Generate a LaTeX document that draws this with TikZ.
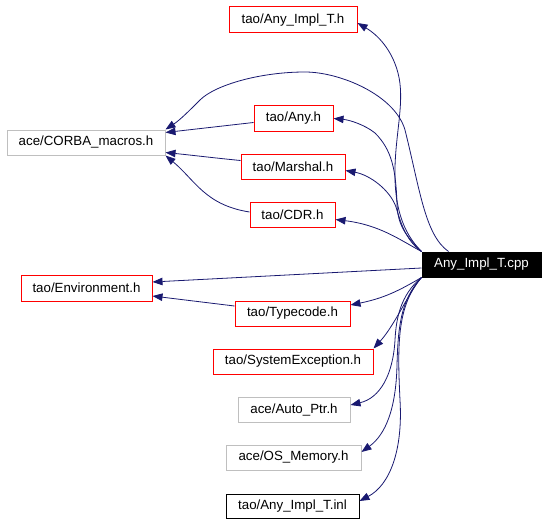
\documentclass[tikz,border=0pt]{standalone}
\usepackage{fontspec}
\setmainfont{Liberation Sans}
\usetikzlibrary{arrows.meta}
\definecolor{edgeblue}{HTML}{191970}
\definecolor{boxgray}{HTML}{BFBFBF}
\begin{document}
\begin{tikzpicture}[x=1pt,y=-1pt,
  box/.style={draw,line width=1pt,minimum height=25pt,inner sep=0pt,font=\fontsize{13.3}{15}\selectfont,anchor=center},
  redbox/.style={box,draw=red},
  graybox/.style={box,draw=boxgray},
  blackbox/.style={box,draw=black},
  edge/.style={draw=edgeblue,line width=0.8pt,-{Triangle[length=10pt,width=7.5pt]},fill=none},
]
\useasboundingbox (0,0) rectangle (548,524);
\node[redbox,minimum width=128pt,minimum height=26pt] (implh) at (293,20) {tao/Any\_Impl\_T.h};
\node[graybox,minimum width=158pt] (corba) at (86,142.5) {ace/CORBA\_macros.h};
\node[redbox,minimum width=79pt] (anyh) at (293.5,118.5) {tao/Any.h};
\node[redbox,minimum width=104pt] (marshal) at (293,166.5) {tao/Marshal.h};
\node[redbox,minimum width=85pt] (cdr) at (292.5,214.5) {tao/CDR.h};
\node[box,fill=black,draw=black,text=white,minimum width=119pt] (cpp) at (481.5,264.5) {Any\_Impl\_T.cpp};
\node[redbox,minimum width=131pt,minimum height=26pt] (env) at (86.5,288) {tao/Environment.h};
\node[redbox,minimum width=115pt] (typecode) at (292.5,313.5) {tao/Typecode.h};
\node[redbox,minimum width=160pt] (sysexc) at (293,361.5) {tao/SystemException.h};
\node[graybox,minimum width=112pt] (autoptr) at (294,409.5) {ace/Auto\_Ptr.h};
\node[graybox,minimum width=135pt] (osmem) at (293.5,457.5) {ace/OS\_Memory.h};
\node[blackbox,minimum width=133pt,minimum height=24pt] (inl) at (292.5,506) {tao/Any\_Impl\_T.inl};

% cpp -> Any_Impl_T.h
\draw[edge] (cpp.north west) .. controls (402,232) and (394,205) .. (395,167)
  .. controls (396,130) and (405,100) .. (398,73)
  .. controls (392,50) and (378,35) .. ([yshift=-3pt]implh.east);
% cpp -> CORBA_macros.h
\draw[edge] ([xshift=27pt]cpp.north west) .. controls (425,235) and (420,190) .. (405,130)
  .. controls (395,95) and (340,72) .. (305,72)
  .. controls (260,72) and (215,85) .. (200,100)
  .. controls (190,110) and (180,120) .. (corba.north east);
% cpp -> Any.h
\draw[edge] (cpp.north west) .. controls (405,235) and (398,225) .. (397,205)
  .. controls (396,170) and (392,150) .. (375,133)
  .. controls (365,125) and (350,120) .. (anyh.east);
% cpp -> Marshal.h
\draw[edge] (cpp.north west) .. controls (405,240) and (400,220) .. (396,207)
  .. controls (390,190) and (370,175) .. ([yshift=-4pt]marshal.east);
% cpp -> CDR.h
\draw[edge] (cpp.north west) .. controls (400,240) and (380,225) .. ([yshift=-5pt]cdr.east);
% Any.h -> CORBA
\draw[edge] ([yshift=-4pt]anyh.west) -- ([yshift=10pt]corba.east);
% Marshal.h -> CORBA
\draw[edge] ([yshift=6pt]marshal.west) .. controls (215,158) and (190,155) .. ([yshift=-10pt]corba.east);
% CDR.h -> CORBA
\draw[edge] ([yshift=2.5pt]cdr.west) .. controls (205,205) and (195,180) .. ([yshift=-13pt]corba.east);
% cpp -> Environment.h
\draw[edge] ([yshift=-3.5pt]cpp.west) -- ([yshift=6pt]env.east);
% Typecode -> Environment
\draw[edge] ([yshift=7.5pt]typecode.west) -- ([yshift=-8pt]env.east);
% cpp -> Typecode
\draw[edge] (cpp.south west) .. controls (400,290) and (385,298) .. ([yshift=8.5pt]typecode.east);
% cpp -> SystemException
\draw[edge] (cpp.south west) .. controls (410,290) and (395,325) .. (sysexc.north east);
% cpp -> Auto_Ptr
\draw[edge] (cpp.south west) .. controls (400,295) and (396,320) .. (395,340)
  .. controls (393,375) and (380,398) .. ([yshift=4.5pt]autoptr.east);
% cpp -> OS_Memory
\draw[edge] (cpp.south west) .. controls (400,300) and (398,330) .. (397,365)
  .. controls (396,410) and (385,435) .. ([yshift=5.5pt]osmem.east);
% cpp -> Any_Impl_T.inl
\draw[edge] (cpp.south west) .. controls (398,305) and (397,340) .. (400,400)
  .. controls (403,450) and (390,485) .. ([yshift=5pt]inl.east);
\end{tikzpicture}
\end{document}
